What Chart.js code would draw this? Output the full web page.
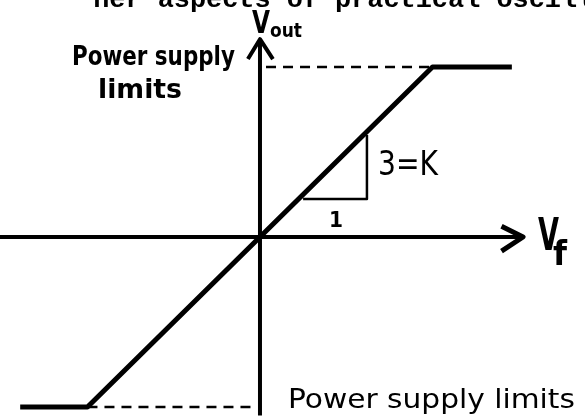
<!DOCTYPE html>
<html>
<head>
<meta charset="utf-8">
<script src="https://cdn.jsdelivr.net/npm/chart.js@4/dist/chart.umd.min.js"></script>
<style>
  html, body { margin: 0; padding: 0; background: #fff; }
  #wrap { width: 585px; height: 419px; }
</style>
</head>
<body>
<div id="wrap"><canvas id="chart" width="585" height="419"></canvas></div>
<script>
// transfer curve: Vout = K * Vf, clipped at the supply limits
const transferVf = [-1.39, -1, 1, 1.46];
const transferVout = [-3, -3, 3, 3];

// dashed supply limit guides
const upperLimitVf = [0.035, 1];
const upperLimitVout = [3, 3];
const lowerLimitVf = [-1, -0.02];
const lowerLimitVout = [-3, -3];

// axes (drawn as lines) and their arrow heads
const xAxisVf = [-1.51, 1.525];
const xAxisVout = [0, 0];
const yAxisVf = [0, 0];
const yAxisVout = [-3.15, 3.49];
const xArrowVf = [1.40, 1.525, 1.40];
const xArrowVout = [0.19, 0, -0.25];
const yArrowVf = [-0.07, 0, 0.075];
const yArrowVout = [3.14, 3.49, 3.14];

// slope triangle
const slopeVf = [0.25, 0.62, 0.62];
const slopeVout = [0.67, 0.67, 1.80];

function pts(xs, ys) {
  return xs.map((x, i) => ({ x: x, y: ys[i] }));
}

function lineSet(xs, ys, width, dash) {
  return {
    data: pts(xs, ys),
    showLine: true,
    borderColor: '#000',
    borderWidth: width,
    borderDash: dash || [],
    pointRadius: 0,
    tension: 0,
    fill: false,
    borderCapStyle: 'butt',
    borderJoinStyle: 'round'
  };
}

// text labels, anchored in data units (left edge, baseline)
const labels = [
  { text: 'her aspects of practical oscill', x: -0.967, y: 4.06, font: 'bold 26px "Liberation Mono"', w: 500 },
  { text: 'V', x: -0.046, y: 3.60, font: 'bold 32px "DejaVu Sans"', w: 18 },
  { text: 'out', x: 0.058, y: 3.53, font: 'bold 20px "DejaVu Sans"', w: 32 },
  { text: 'Power supply', x: -1.09, y: 3.035, font: 'bold 26px "DejaVu Sans"', w: 163 },
  { text: 'limits', x: -0.939, y: 2.45, font: 'bold 26px "DejaVu Sans"', w: 84 },
  { text: '3=K', x: 0.684, y: 1.094, font: '33px "DejaVu Sans"', w: 60 },
  { text: '1', x: 0.40, y: 0.176, font: 'bold 22px "DejaVu Sans"', w: 14 },
  { text: 'V', x: 1.612, y: -0.229, font: 'bold 44px "DejaVu Sans"', w: 21 },
  { text: 'f', x: 1.699, y: -0.50, font: 'bold 34px "DejaVu Sans"', w: 14 },
  { text: 'Power supply limits', x: 0.162, y: -3.017, font: '27px "DejaVu Sans"', w: 287 }
];

const labelPlugin = {
  id: 'labels',
  afterDatasetsDraw(chart) {
    const ctx = chart.ctx;
    const xs = chart.scales.x, ys = chart.scales.y;
    ctx.save();
    ctx.fillStyle = '#000';
    ctx.textBaseline = 'alphabetic';
    ctx.textAlign = 'left';
    labels.forEach(l => {
      ctx.font = l.font;
      const px = xs.getPixelForValue(l.x);
      const py = ys.getPixelForValue(l.y);
      const natural = ctx.measureText(l.text).width;
      const sx = l.w ? l.w / natural : 1;
      ctx.save();
      ctx.translate(px, py);
      ctx.scale(sx, 1);
      ctx.fillText(l.text, 0, 0);
      ctx.restore();
    });
    ctx.restore();
  }
};

const bg = {
  id: 'bg',
  beforeDraw(chart) {
    const ctx = chart.ctx;
    ctx.save();
    ctx.fillStyle = '#fff';
    ctx.fillRect(0, 0, chart.width, chart.height);
    ctx.restore();
  }
};

new Chart(document.getElementById('chart').getContext('2d'), {
  type: 'scatter',
  data: {
    datasets: [
      lineSet(xAxisVf, xAxisVout, 4),
      lineSet(yAxisVf, yAxisVout, 4),
      lineSet(xArrowVf, xArrowVout, 5),
      lineSet(yArrowVf, yArrowVout, 4),
      lineSet(upperLimitVf, upperLimitVout, 2.5, [10, 7]),
      lineSet(lowerLimitVf, lowerLimitVout, 2.5, [10, 7]),
      lineSet(slopeVf, slopeVout, 2.5),
      lineSet(transferVf, transferVout, 5)
    ]
  },
  options: {
    responsive: false,
    animation: false,
    devicePixelRatio: 1,
    layout: { padding: 0 },
    plugins: { legend: { display: false }, tooltip: { enabled: false }, title: { display: false } },
    scales: {
      x: { type: 'linear', min: -1.507, max: 1.884, display: false },
      y: { type: 'linear', min: -3.212, max: 4.182, display: false }
    }
  },
  plugins: [bg, labelPlugin]
});
</script>
</body>
</html>
